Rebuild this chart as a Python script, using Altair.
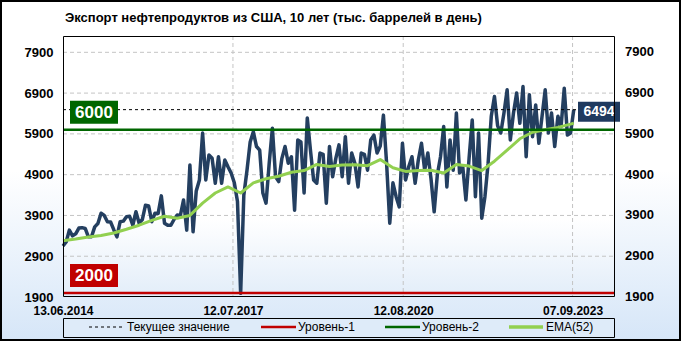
import altair as alt
import pandas as pd

TITLE = "Экспорт нефтепродуктов из США, 10 лет (тыс. баррелей в день)"
FONT = "Liberation Sans"

# weekly-ish export values (thousand barrels per day)
export_values = [
    3150, 3250, 3540, 3400, 3450, 3590, 3600, 3580, 3375, 3380,
    3620, 3700, 3955, 3900, 3745, 3740, 3550, 3375, 3745, 3760,
    3870, 3880, 3660, 3990, 3710, 3800, 4150, 4130, 3745, 3955,
    3950, 4380, 3710, 3660, 3660, 3800, 3910, 3900, 4280, 3540,
    5135, 3500, 4500, 4770, 5920, 4770, 5380, 5300, 4690, 5340,
    4690, 5260, 5095, 4940, 4700, 4240, 1990, 4400, 5010, 5700,
    5950, 5590, 5500, 4450, 4200, 5180, 6040, 4850, 4730, 5300,
    5590, 5180, 5340, 4030, 5750, 5700, 4450, 6290, 5500, 4770,
    4690, 5430, 5400, 4200, 5590, 4850, 5300, 5630, 4850, 5830,
    4690, 5430, 5180, 4600, 5430, 5400, 5010, 5750, 5870, 5430,
    5600, 6360, 5180, 3710, 4700, 4360, 4110, 5670, 4770, 5100,
    5340, 4690, 5260, 5670, 5010, 5430, 4800, 3990, 4900, 5340,
    6080, 4600, 5750, 5010, 6410, 4940, 5100, 4280, 5300, 6240,
    4360, 5920, 3830, 4360, 5180, 6330, 6815, 6100, 5920, 6410,
    6980, 5750, 6410, 6900, 6160, 7060, 5340, 6860, 5830, 6610,
    5670, 6330, 6980, 5920, 6410, 5590, 6330, 6080, 7020, 5870,
    5920, 6494,
]

# EMA(52) (every 4th point plus the last one)
ema_values = [
    3280, 3320, 3370, 3410, 3470, 3560, 3660, 3780, 3880, 3830,
    3900, 4200, 4450, 4600, 4450, 4700, 4800, 4860, 4960, 5000,
    5150, 5100, 5135, 5140, 5120, 5270, 5070, 4980, 5000, 5010,
    4940, 5150, 5110, 5000, 5230, 5500, 5780, 5940, 6000, 6060,
    6140, 6160,
]

y_ticks = [1900, 2900, 3900, 4900, 5900, 6900, 7900]
x_tick_dates = ["2014-06-13", "2017-07-12", "2020-08-12", "2023-09-07"]
x_domain = ["2014-06-13", "2024-06-14"]
level_values = [2000, 6000]
level_colors = ["#c00000", "#006600"]
legend_labels = ["Текущее значение", "Уровень-1", "Уровень-2", "EMA(52)"]

W, H = 552, 261
LINE_C = "#243f60"
EMA_C = "#92d050"

dates = pd.date_range("2014-06-13", periods=len(export_values), freq="21D")
series = pd.DataFrame({"date": dates.strftime("%Y-%m-%dT00:00:00"), "value": export_values})
ema_idx = list(range(0, len(dates), 4)) + [len(dates) - 1]
ema = pd.DataFrame({"date": dates[ema_idx].strftime("%Y-%m-%dT00:00:00"), "value": ema_values})


def dt(s):
    y, m, d = map(int, s.split("-"))
    return alt.DateTime(year=y, month=m, date=d)


x_scale = alt.Scale(domain=[dt(s) for s in x_domain])
x_axis = alt.Axis(values=[dt(s) for s in x_tick_dates], format="%d.%m.%Y",
                  labelFont=FONT, labelFontWeight="bold", labelFontSize=12,
                  labelColor="black", labelPadding=8, ticks=False, tickSize=0,
                  domain=False, grid=False, title=None, labelFlush=False,
                  labelOverlap=False, labelBound=False, zindex=1)
y_scale = alt.Scale(domain=[1900, 8300], nice=False, zero=False)
y_axis = alt.Axis(values=y_ticks, format="d", labelFont=FONT, labelFontWeight="bold",
                  labelFontSize=13, labelColor="black", labelPadding=10, ticks=False,
                  tickSize=0, domain=False, grid=False, title=None, labelFlush=False,
                  labelOverlap=False, labelBound=False, zindex=1)


def X(f):
    return alt.X(f, type="temporal", scale=x_scale, axis=x_axis)


def Y(f):
    return alt.Y(f, type="quantitative", scale=y_scale, axis=y_axis)


one = pd.DataFrame({"k": [0]})

grad_outer = alt.Gradient(gradient="linear", x1=0, x2=0, y1=0, y2=1, stops=[
    alt.GradientStop(offset=0, color="#ffffff"),
    alt.GradientStop(offset=0.5, color="#ffffff"),
    alt.GradientStop(offset=1, color="#d6e6f8")])
grad_plot = alt.Gradient(gradient="linear", x1=0, x2=0, y1=0, y2=1, stops=[
    alt.GradientStop(offset=0, color="#ffffff"),
    alt.GradientStop(offset=0.7, color="#ffffff"),
    alt.GradientStop(offset=1, color="#e2edf9")])

canvas_bg = alt.Chart(one).mark_rect(fill=grad_outer, stroke="black", strokeWidth=2).encode(
    x=alt.value(-62), x2=alt.value(W + 65), y=alt.value(-35), y2=alt.value(H + 43))
plot_bg = alt.Chart(one).mark_rect(fill=grad_plot).encode(
    x=alt.value(0), x2=alt.value(W), y=alt.value(0), y2=alt.value(H))

hgrid = alt.Chart(pd.DataFrame({"v": y_ticks[1:]})).mark_rule(
    color="#c4c4c4", strokeDash=[4, 3], strokeWidth=1).encode(
    y=Y("v"), x=alt.value(0), x2=alt.value(W))
vgrid = alt.Chart(pd.DataFrame({"d": [s + "T00:00:00" for s in x_tick_dates[1:]]})).mark_rule(
    color="#c4c4c4", strokeDash=[4, 3], strokeWidth=1).encode(
    x=X("d"), y=alt.value(0), y2=alt.value(H))

data_line = alt.Chart(series).mark_line(color=LINE_C, strokeWidth=3.5, strokeJoin="round").encode(
    x=X("date"), y=Y("value"))
ema_line = alt.Chart(ema).mark_line(color=EMA_C, strokeWidth=3, strokeJoin="round").encode(
    x=X("date"), y=Y("value"))

levels = pd.DataFrame({"v": level_values, "c": level_colors})
level_lines = alt.Chart(levels).mark_rule(strokeWidth=2.5).encode(
    y=Y("v"), x=alt.value(0), x2=alt.value(W), color=alt.Color("c:N", scale=None))
level_boxes = alt.Chart(levels).mark_rect(yOffset=-29, y2Offset=-6).encode(
    y=Y("v"), y2=alt.Y2("v"), x=alt.value(7), x2=alt.value(55),
    fill=alt.Color("c:N", scale=None))
level_text = alt.Chart(levels).mark_text(yOffset=-17, color="white", font=FONT,
                                         fontWeight="bold", fontSize=17,
                                         align="center", baseline="middle").encode(
    y=Y("v"), x=alt.value(31), text=alt.Text("v:Q", format="d"))

cur = pd.DataFrame({"v": [export_values[-1]]})
cur_line = alt.Chart(cur).mark_rule(color="black", strokeDash=[3, 3], strokeWidth=1).encode(
    y=Y("v"), x=alt.value(0), x2=alt.value(515))
cur_box = alt.Chart(cur).mark_rect(yOffset=-8, y2Offset=12, fill="#1f3a5f").encode(
    y=Y("v"), y2=alt.Y2("v"), x=alt.value(515), x2=alt.value(557))
cur_text = alt.Chart(cur).mark_text(yOffset=2, color="white", font=FONT, fontWeight="bold",
                                    fontSize=14, align="center", baseline="middle").encode(
    y=Y("v"), x=alt.value(536), text=alt.Text("v:Q", format="d"))

border = alt.Chart(one).mark_rect(fillOpacity=0, stroke="black", strokeWidth=1).encode(
    x=alt.value(0.5), x2=alt.value(W - 0.5), y=alt.value(0.5), y2=alt.value(H - 0.5))

right_labels = alt.Chart(pd.DataFrame({"v": y_ticks})).mark_text(
    align="left", baseline="middle", font=FONT, fontWeight="bold", fontSize=13,
    color="black").encode(y=Y("v"), x=alt.value(W + 10), text=alt.Text("v:Q", format="d"))

title = alt.Chart(one).mark_text(align="left", baseline="middle", font=FONT,
                                 fontWeight="bold", fontSize=13, color="black").encode(
    x=alt.value(2), y=alt.value(-18), text=alt.value(TITLE))

# legend
LY = H + 30
legend_box = alt.Chart(one).mark_rect(fill="#deebf9", stroke="black", strokeWidth=1).encode(
    x=alt.value(0.5), x2=alt.value(W - 0.5), y=alt.value(H + 21.5), y2=alt.value(H + 40.5))
legend_items = []
item_specs = [
    (26, 59, "black", 1, [3, 3], 64),
    (198, 233, level_colors[0], 2.5, None, 235),
    (322, 357, level_colors[1], 2.5, None, 359),
    (446, 480, EMA_C, 3.5, None, 483),
]
for (x1, x2, col, sw, dash, tx), lab in zip(item_specs, legend_labels):
    kw = dict(color=col, strokeWidth=sw)
    if dash:
        kw["strokeDash"] = dash
    legend_items.append(alt.Chart(one).mark_rule(**kw).encode(
        x=alt.value(x1), x2=alt.value(x2), y=alt.value(LY)))
    legend_items.append(alt.Chart(one).mark_text(
        align="left", baseline="middle", font=FONT, fontSize=12, color="black").encode(
        x=alt.value(tx), y=alt.value(LY), text=alt.value(lab)))

chart = alt.layer(
    canvas_bg, plot_bg, hgrid, vgrid, data_line, ema_line, level_lines, cur_line,
    level_boxes, level_text, cur_box, cur_text, border, right_labels, title,
    legend_box, *legend_items
).properties(
    width=W, height=H,
    autosize=alt.AutoSizeParams(type="none"),
    padding={"left": 63, "top": 36, "right": 66, "bottom": 44},
).configure_view(stroke=None)

chart.save("out.html", embed_options={"renderer": "svg", "actions": False})
